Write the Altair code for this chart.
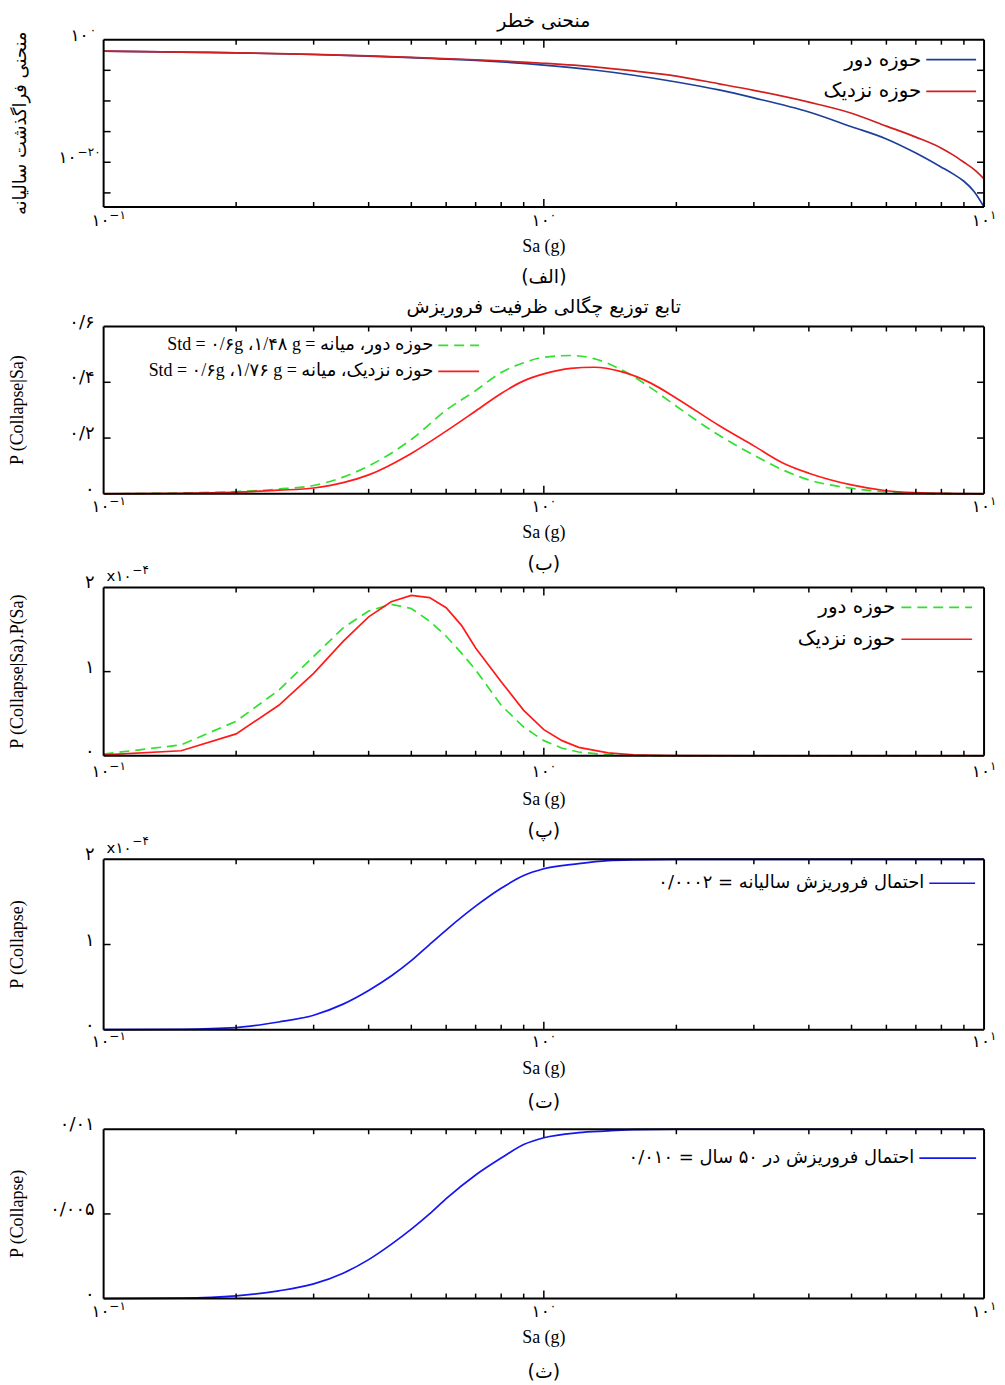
import altair as alt
import pandas as pd

# ---------------- data ----------------
# (الف) hazard curves: Sa (g) and log10 of annual exceedance
SA_HAZ = [0.1, 0.15, 0.2, 0.3, 0.4, 0.5, 0.7, 1.0, 1.3, 1.6, 2.0, 2.5, 3.0, 4.0, 5.0, 6.0, 7.0, 8.0, 8.5, 9.0, 9.5, 10.0]
HAZ_FAR_EXP = [-1.88, -2.02, -2.15, -2.42, -2.68, -2.93, -3.38, -4.15, -4.95, -5.8, -6.9, -8.2, -9.5, -11.8, -14.2, -16.2, -18.5, -20.8, -21.9, -23.1, -24.8, -27.3]
HAZ_NEAR_EXP = [-1.88, -2.02, -2.14, -2.40, -2.65, -2.88, -3.28, -3.85, -4.43, -5.1, -5.94, -7.2, -8.27, -10.2, -12.0, -14.1, -15.9, -17.7, -18.8, -20.0, -21.2, -22.7]

# (ب) fragility density
SA_PDF = [0.1, 0.15, 0.2, 0.25, 0.3, 0.35, 0.4, 0.5, 0.6, 0.7, 0.8, 0.9, 1.0, 1.15, 1.3, 1.5, 1.75, 2.0, 2.5, 3.0, 3.5, 4.0, 5.0, 6.0, 7.0, 8.5, 10.0]
PDF_FAR = [0.0, 0.003, 0.008, 0.017, 0.03, 0.06, 0.10, 0.195, 0.30, 0.37, 0.435, 0.47, 0.49, 0.496, 0.485, 0.445, 0.38, 0.314, 0.21, 0.139, 0.085, 0.05, 0.02, 0.007, 0.002, 0.0005, 0.0]
PDF_NEAR = [0.0, 0.002, 0.006, 0.013, 0.021, 0.04, 0.068, 0.145, 0.225, 0.297, 0.36, 0.405, 0.43, 0.45, 0.454, 0.438, 0.397, 0.343, 0.245, 0.172, 0.11, 0.074, 0.032, 0.011, 0.004, 0.001, 0.0]

# (پ) P(Collapse|Sa).P(Sa)  (x 1e-4)
SA_DIS = [0.1, 0.15, 0.2, 0.25, 0.3, 0.35, 0.4, 0.45, 0.5, 0.55, 0.6, 0.65, 0.7, 0.8, 0.9, 1.0, 1.1, 1.2, 1.4, 1.6, 1.8, 2.0, 3.0, 5.0, 10.0]
DIS_FAR = [0.02, 0.13, 0.41, 0.78, 1.18, 1.52, 1.72, 1.80, 1.75, 1.60, 1.42, 1.22, 1.02, 0.60, 0.34, 0.18, 0.09, 0.045, 0.012, 0.004, 0.001, 0.0, 0.0, 0.0, 0.0]
DIS_NEAR = [0.01, 0.06, 0.26, 0.60, 0.98, 1.36, 1.65, 1.83, 1.905, 1.88, 1.76, 1.55, 1.28, 0.88, 0.54, 0.31, 0.18, 0.10, 0.035, 0.012, 0.004, 0.001, 0.0, 0.0, 0.0]

# (ت) cumulative annual collapse probability (x 1e-4) and (ث) 50-year
SA_CUM = [0.1, 0.15, 0.2, 0.25, 0.3, 0.35, 0.4, 0.45, 0.5, 0.55, 0.6, 0.7, 0.8, 0.9, 1.0, 1.2, 1.4, 1.6, 2.0, 3.0, 10.0]
CUM_ANNUAL = [0.0, 0.005, 0.025, 0.09, 0.17, 0.30, 0.46, 0.63, 0.81, 1.0, 1.17, 1.45, 1.66, 1.81, 1.89, 1.95, 1.985, 1.995, 2.0, 2.0, 2.0]
CUM_50 = [0.0, 0.00003, 0.00016, 0.00046, 0.00087, 0.0015, 0.0023, 0.0032, 0.0041, 0.0050, 0.0059, 0.0073, 0.0083, 0.0091, 0.0095, 0.0098, 0.0099, 0.00998, 0.01, 0.01, 0.01]

# axis ticks / labels
X_MINOR = [0.2, 0.3, 0.4, 0.5, 0.6, 0.7, 0.8, 0.9, 2, 3, 4, 5, 6, 7, 8, 9]
X_MAJOR = [1]
X_LABEL_AT = [0.1, 1, 10]
X_LABEL_BASE = ["۱۰", "۱۰", "۱۰"]
X_LABEL_EXP = ["−۱", "۰", "۱"]

Y1_TICKS = [1e-5, 1e-10, 1e-15, 1e-20, 1e-25]
Y1_LABEL_AT = [1.0, 1e-20]
Y1_LABEL_EXP = ["۰", "−۲۰"]
Y2_LABEL_AT = [0.0, 0.2, 0.4, 0.6]
Y2_LABELS = ["۰", "۰/۲", "۰/۴", "۰/۶"]
Y2_TICKS = [0.2, 0.4]
Y34_LABEL_AT = [0, 1, 2]
Y34_LABELS = ["۰", "۱", "۲"]
Y34_TICKS = [1]
Y5_LABEL_AT = [0.0, 0.005, 0.01]
Y5_LABELS = ["۰", "۰/۰۰۵", "۰/۰۱"]
Y5_TICKS = [0.005]

# ---------------- layout / style ----------------
W = 884
FA = "DejaVu Sans"
LA = "Liberation Serif"
MIX = "Liberation Serif, DejaVu Sans"

XS = alt.Scale(type="log", domain=[0.1, 10], nice=False)


def one():
    return alt.Data(values=[{"k": 0}])


def hrule(x1, x2, y, color="black", width=2.0, dash=None, opacity=1.0):
    m = dict(color=color, strokeWidth=width, opacity=opacity)
    if dash:
        m["strokeDash"] = dash
    return alt.Chart(one()).mark_rule(**m).encode(
        x=alt.value(x1), x2=alt.value(x2), y=alt.value(y))


def vrule(x, y1, y2, color="black", width=2.0):
    return alt.Chart(one()).mark_rule(color=color, strokeWidth=width).encode(
        x=alt.value(x), y=alt.value(y1), y2=alt.value(y2))


def text(x, y, s, font=FA, size=16, align="center", angle=None, baseline="middle"):
    m = dict(text=s, font=font, fontSize=size, align=align, baseline=baseline, color="black")
    if angle is not None:
        m["angle"] = angle
    return alt.Chart(one()).mark_text(**m).encode(x=alt.value(x), y=alt.value(y))


def frame(H):
    return [hrule(0, W, 0), hrule(0, W, H), vrule(0, 0, H), vrule(W, 0, H)]


def x_ticks(H):
    out = []
    for vals, L in ((X_MINOR, 5), (X_MAJOR, 8)):
        d = pd.DataFrame({"t": vals})
        xe = alt.X("t:Q", scale=XS, axis=None)
        base = alt.Chart(d).mark_rule(color="black", strokeWidth=1.5)
        out.append(base.encode(x=xe, y=alt.value(H), y2=alt.value(H - L)))
        out.append(base.encode(x=xe, y=alt.value(0), y2=alt.value(L)))
    return out


def x_labels(H, off):
    d = pd.DataFrame({"t": X_LABEL_AT, "b": X_LABEL_BASE, "e": X_LABEL_EXP})
    xe = alt.X("t:Q", scale=XS, axis=None)
    return [
        alt.Chart(d).mark_text(align="right", baseline="middle", dx=6, font=FA, fontSize=17,
                               color="black").encode(x=xe, y=alt.value(H + off + 1), text="b:N"),
        alt.Chart(d).mark_text(align="left", baseline="middle", dx=6, dy=-6, font=FA, fontSize=12,
                               color="black").encode(x=xe, y=alt.value(H + off + 1), text="e:N"),
    ]


def y_ticks(vals, ys):
    d = pd.DataFrame({"v": vals})
    ye = alt.Y("v:Q", scale=ys, axis=None)
    base = alt.Chart(d).mark_rule(color="black", strokeWidth=1.5)
    return [base.encode(y=ye, x=alt.value(0), x2=alt.value(7)),
            base.encode(y=ye, x=alt.value(W - 7), x2=alt.value(W))]


def y_labels(vals, txts, ys):
    d = pd.DataFrame({"v": vals, "s": txts})
    return [alt.Chart(d).mark_text(align="right", baseline="middle", font=FA, fontSize=18, dy=-4,
                                   color="black").encode(
        x=alt.value(-9), y=alt.Y("v:Q", scale=ys, axis=None), text="s:N")]


def curve(sa, vals, ys, color, dash=None, width=1.7, interp="monotone"):
    d = pd.DataFrame({"Sa": sa, "v": vals})
    m = dict(color=color, strokeWidth=width, interpolate=interp)
    if dash:
        m["strokeDash"] = dash
    return alt.Chart(d).mark_line(**m).encode(
        x=alt.X("Sa:Q", scale=XS, axis=None), y=alt.Y("v:Q", scale=ys, axis=None))


def bottom_texts(H, xoff, toff, coff, caption):
    return x_labels(H, xoff) + [
        text(W / 2, H + toff, "Sa (g)", font=LA, size=18),
        text(W / 2, H + coff, caption, font=FA, size=19),
    ]


def legend_item(xt, x1, x2, y, label, color, dash=None, font=FA, size=20):
    return [hrule(x1, x2, y, color=color, width=1.7, dash=dash),
            text(xt, y, label, font=font, size=size, align="right")]


def scale_note():
    return [text(3, -11, "x۱۰", font=FA, size=15, align="left"),
            text(29, -18, "−۴", font=FA, size=12, align="left")]


# ---------------- panel 1 ----------------
H1, G1 = 168, 288
ys1 = alt.Scale(type="log", domain=[10 ** -27.3, 1], range=[H1, 0], nice=False)
haz_far = [10 ** e for e in HAZ_FAR_EXP]
haz_near = [10 ** e for e in HAZ_NEAR_EXP]
l1 = []
l1.append(hrule(-96, -95, -29, opacity=0.0))  # bounds anchor
l1 += [curve(SA_HAZ, haz_far, ys1, "#1c3f9a"), curve(SA_HAZ, haz_near, ys1, "#d11f1f")]
l1 += frame(H1) + x_ticks(H1) + y_ticks(Y1_TICKS, ys1)
d_y1 = pd.DataFrame({"v": Y1_LABEL_AT, "e": Y1_LABEL_EXP, "b": ["۱۰", "۱۰"]})
for i, dxb in enumerate([-15, -27]):
    di = d_y1.iloc[[i]]
    l1.append(alt.Chart(di).mark_text(align="right", baseline="middle", font=FA, fontSize=17, dy=-4,
                                      color="black").encode(
        x=alt.value(dxb), y=alt.Y("v:Q", scale=ys1, axis=None), text="b:N"))
    l1.append(alt.Chart(di).mark_text(align="left", baseline="middle", font=FA, fontSize=12, dy=-10,
                                      color="black").encode(
        x=alt.value(dxb + 1), y=alt.Y("v:Q", scale=ys1, axis=None), text="e:N"))
l1.append(text(-83, H1 / 2, "منحنی فراگذشت سالیانه", font=FA, size=18, angle=270))
l1.append(text(W / 2, -19, "منحنی خطر", font=FA, size=19))
l1 += legend_item(821, 826, 876, 20, "حوزه دور", "#1c3f9a")
l1 += legend_item(821, 826, 876, 52, "حوزه نزدیک", "#d11f1f")
l1 += bottom_texts(H1, 13, 40, 70, "(الف)")
p1 = alt.layer(*l1).properties(width=W, height=G1)

# ---------------- panel 2 ----------------
H2, G2 = 168, 262
ys2 = alt.Scale(domain=[0, 0.6], range=[H2, 0], nice=False, zero=False)
l2 = [curve(SA_PDF, PDF_FAR, ys2, "#2fe02f", dash=[10, 6]),
      curve(SA_PDF, PDF_NEAR, ys2, "#ff1a1a")]
l2 += frame(H2) + x_ticks(H2) + y_ticks(Y2_TICKS, ys2) + y_labels(Y2_LABEL_AT, Y2_LABELS, ys2)
l2.append(text(-86, H2 / 2, "P (Collapse|Sa)", font=LA, size=18, angle=270))
l2.append(text(W / 2, -20, "تابع توزیع چگالی ظرفیت فروریزش", font=FA, size=19))
l2 += legend_item(331, 336, 377, 19, "Std = ۰/۶g  ،۱/۴۸ g = \u2067حوزه دور، میانه\u2069",
                  "#2fe02f", dash=[10, 6], font=MIX, size=18)
l2 += legend_item(331, 336, 377, 45, "Std = ۰/۶g  ،۱/۷۶ g = \u2067حوزه نزدیک، میانه\u2069",
                  "#ff1a1a", font=MIX, size=18)
l2 += bottom_texts(H2, 12, 39, 70, "(ب)")
p2 = alt.layer(*l2).properties(width=W, height=G2)

# ---------------- panel 3 ----------------
H3, G3 = 169, 273
ys3 = alt.Scale(domain=[0, 2], range=[H3, 0], nice=False, zero=False)
l3 = [curve(SA_DIS, DIS_FAR, ys3, "#2fe02f", dash=[10, 6], interp="linear"),
      curve(SA_DIS, DIS_NEAR, ys3, "#ff1a1a", interp="linear")]
l3 += frame(H3) + x_ticks(H3) + y_ticks(Y34_TICKS, ys3) + y_labels(Y34_LABEL_AT, Y34_LABELS, ys3)
l3 += scale_note()
l3.append(text(-86, H3 / 2, "P (Collapse|Sa).P(Sa)", font=LA, size=18, angle=270))
l3 += legend_item(795, 801, 872, 20, "حوزه دور", "#2fe02f", dash=[10, 6])
l3 += legend_item(795, 801, 872, 52, "حوزه نزدیک", "#ff1a1a")
l3 += bottom_texts(H3, 15, 44, 76, "(پ)")
p3 = alt.layer(*l3).properties(width=W, height=G3)

# ---------------- panel 4 ----------------
H4, G4 = 171, 271
ys4 = alt.Scale(domain=[0, 2], range=[H4, 0], nice=False, zero=False)
l4 = [curve(SA_CUM, CUM_ANNUAL, ys4, "#1515ee")]
l4 += frame(H4) + x_ticks(H4) + y_ticks(Y34_TICKS, ys4) + y_labels(Y34_LABEL_AT, Y34_LABELS, ys4)
l4 += scale_note()
l4.append(text(-86, H4 / 2, "P (Collapse)", font=LA, size=18, angle=270))
l4 += legend_item(824, 829, 875, 24, "۰/۰۰۰۲ = \u2067احتمال فروریزش سالیانه\u2069", "#1515ee", size=18)
l4 += bottom_texts(H4, 11, 40, 73, "(ت)")
p4 = alt.layer(*l4).properties(width=W, height=G4)

# ---------------- panel 5 ----------------
H5, G5 = 170, 262
ys5 = alt.Scale(domain=[0, 0.01], range=[H5, 0], nice=False, zero=False)
l5 = [curve(SA_CUM, CUM_50, ys5, "#1515ee")]
l5 += frame(H5) + x_ticks(H5) + y_ticks(Y5_TICKS, ys5) + y_labels(Y5_LABEL_AT, Y5_LABELS, ys5)
l5.append(text(-86, H5 / 2, "P (Collapse)", font=LA, size=18, angle=270))
l5 += legend_item(814, 819, 876, 29, "۰/۰۱۰ = \u2067احتمال فروریزش در ۵۰ سال\u2069", "#1515ee", size=18)
l5 += bottom_texts(H5, 12, 40, 74, "(ث)")
p5 = alt.layer(*l5).properties(width=W, height=G5)

chart = alt.vconcat(p1, p2, p3, p4, p5, spacing=0, bounds="flush").properties(
    padding=0, background="white"
).configure_view(stroke=None)

chart.save("out.html", embed_options={"renderer": "svg", "actions": False})
